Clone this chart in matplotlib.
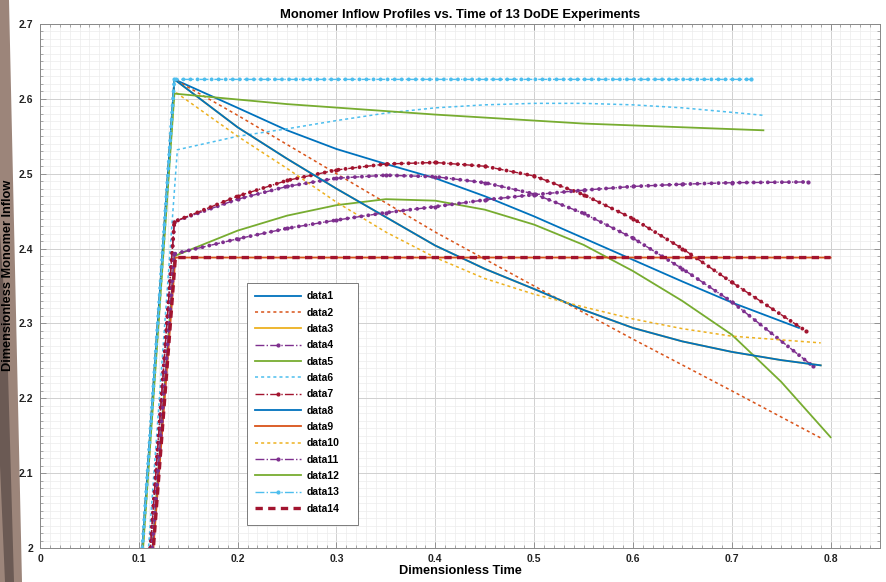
#%%
import numpy as np
import matplotlib
matplotlib.use('Agg')
import matplotlib.pyplot as plt
from matplotlib.patches import Polygon, Rectangle
from matplotlib.ticker import MultipleLocator

plt.rcParams['font.family'] = ['Liberation Sans', 'DejaVu Sans']
plt.rcParams['font.weight'] = 'bold'

#%%
# every run starts at (0, 0) and jumps to its peak at t ~ 0.136
t1 = [0, 0.136, 0.2, 0.25, 0.3, 0.35, 0.4, 0.45, 0.5, 0.55, 0.6, 0.65, 0.7, 0.768]
y1 = [0, 2.626, 2.588, 2.558, 2.533, 2.513, 2.494, 2.47, 2.443, 2.414, 2.385, 2.356, 2.328, 2.294]

t2 = [0, 0.136, 0.2, 0.3, 0.4, 0.5, 0.6, 0.7, 0.79]
y2 = [0, 2.626, 2.578, 2.5, 2.422, 2.35, 2.279, 2.21, 2.147]

t3 = [0, 0.136, 0.2, 0.25, 0.3, 0.35, 0.4, 0.45, 0.5, 0.55, 0.6, 0.65, 0.7, 0.75, 0.79]
y3 = [0, 2.626, 2.562, 2.52, 2.48, 2.442, 2.404, 2.373, 2.346, 2.318, 2.294, 2.276, 2.262, 2.251, 2.244]

t4 = [0, 0.136, 0.2, 0.25, 0.3, 0.35, 0.4, 0.45, 0.5, 0.55, 0.6, 0.65, 0.7, 0.782]
y4 = [0, 2.436, 2.466, 2.483, 2.494, 2.498, 2.496, 2.488, 2.473, 2.447, 2.414, 2.373, 2.329, 2.243]

t5 = [0, 0.136, 0.2, 0.25, 0.3, 0.35, 0.4, 0.45, 0.5, 0.55, 0.6, 0.65, 0.7, 0.75, 0.8]
y5 = [0, 2.39, 2.424, 2.444, 2.458, 2.466, 2.464, 2.452, 2.432, 2.405, 2.37, 2.33, 2.285, 2.222, 2.148]

t6 = [0, 0.139, 0.2, 0.25, 0.3, 0.35, 0.4, 0.45, 0.5, 0.55, 0.6, 0.65, 0.7, 0.732]
y6 = [0, 2.532, 2.55, 2.56, 2.571, 2.581, 2.588, 2.592, 2.594, 2.594, 2.592, 2.588, 2.582, 2.578]

t7 = [0, 0.136, 0.2, 0.25, 0.3, 0.35, 0.4, 0.45, 0.5, 0.55, 0.6, 0.65, 0.7, 0.775]
y7 = [0, 2.436, 2.47, 2.491, 2.505, 2.513, 2.515, 2.51, 2.497, 2.472, 2.44, 2.4, 2.355, 2.29]

t8 = t3
y8 = y3

t9 = [0, 0.137, 0.8]
y9 = [0, 2.388, 2.388]

t10 = [0, 0.136, 0.2, 0.25, 0.3, 0.35, 0.4, 0.45, 0.5, 0.55, 0.6, 0.65, 0.7, 0.79]
y10 = [0, 2.61, 2.55, 2.507, 2.462, 2.422, 2.388, 2.36, 2.339, 2.322, 2.306, 2.293, 2.283, 2.274]

t11 = [0, 0.136, 0.2, 0.25, 0.3, 0.35, 0.4, 0.45, 0.5, 0.55, 0.6, 0.65, 0.7, 0.777]
y11 = [0, 2.393, 2.413, 2.427, 2.438, 2.448, 2.456, 2.465, 2.472, 2.478, 2.483, 2.486, 2.488, 2.489]

t12 = [0, 0.136, 0.25, 0.4, 0.55, 0.732]
y12 = [0, 2.607, 2.593, 2.579, 2.567, 2.558]

t13 = [0, 0.136, 0.719]
y13 = [0, 2.626, 2.626]

t14 = t9
y14 = y9

xticks = [0, 0.1, 0.2, 0.3, 0.4, 0.5, 0.6, 0.7, 0.8]
xticklabels = ['0', '0.1', '0.2', '0.3', '0.4', '0.5', '0.6', '0.7', '0.8']
yticks = [2, 2.1, 2.2, 2.3, 2.4, 2.5, 2.6, 2.7]
yticklabels = ['2', '2.1', '2.2', '2.3', '2.4', '2.5', '2.6', '2.7']

#%%
c_blue = '#0072BD'
c_orange = '#D95319'
c_yellow = '#EDB120'
c_purple = '#7E2F8E'
c_green = '#77AC30'
c_cyan = '#4DBEEE'
c_red = '#A2142F'

dot = (0, (2, 2))

series = [
    (t1, y1, c_blue, '-', False, 1.3),
    (t2, y2, c_orange, dot, False, 1.1),
    (t3, y3, c_yellow, '-', False, 1.3),
    (t4, y4, c_purple, '-.', True, 1.0),
    (t5, y5, c_green, '-', False, 1.3),
    (t6, y6, c_cyan, dot, False, 1.1),
    (t7, y7, c_red, '-.', True, 1.0),
    (t8, y8, c_blue, '-', False, 1.3),
    (t9, y9, c_orange, '-', False, 1.3),
    (t10, y10, c_yellow, dot, False, 1.1),
    (t11, y11, c_purple, '-.', True, 1.0),
    (t12, y12, c_green, '-', False, 1.3),
    (t13, y13, c_cyan, '-.', True, 1.0),
    (t14, y14, c_red, (0, (2.2, 1.6)), False, 2.4),
]

fig = plt.figure(figsize=(8.86, 5.82), dpi=100)
fig.patch.set_facecolor('white')

# brownish strip of the photographed screen on the left (kept behind the axes labels)
fig.patches.append(Polygon([[0, 0], [22 / 886, 0], [9 / 886, 1], [0, 1]], closed=True,
                           transform=fig.transFigure, facecolor='#9c857a', edgecolor='none', zorder=-10))
fig.patches.append(Polygon([[0, 0.60], [7 / 886, 0.42], [14 / 886, 0.0], [5 / 886, 0.0], [0, 0.2]], closed=True,
                           transform=fig.transFigure, facecolor='#6b5a54', edgecolor='none', zorder=-9))

ax = fig.add_axes([40 / 886, 1 - 548 / 582, 840 / 886, 524 / 582])

for i, (t, y, c, ls, mk, lw) in enumerate(series):
    ax.plot(t, y, color=c, linestyle=ls, linewidth=lw,
            marker='.' if mk else None, markersize=4,
            label=f'data{i + 1}', zorder=3 + i * 0.01)
    if mk:
        # dense chain of dots along the curve, like the marker chain in the original
        ax.plot(t, y, color=c, linestyle=(0, (0.01, 1.8)), linewidth=2.8,
                dash_capstyle='round', zorder=3 + i * 0.01)

ax.set_xlim(0, 0.85)
ax.set_ylim(2, 2.7)
ax.set_xticks(xticks)
ax.set_xticklabels(xticklabels)
ax.set_yticks(yticks)
ax.set_yticklabels(yticklabels)
ax.xaxis.set_minor_locator(MultipleLocator(0.01))
ax.yaxis.set_minor_locator(MultipleLocator(0.01))

ax.grid(True, which='major', color='#d0d0d0', linewidth=0.7, zorder=0)
ax.grid(True, which='minor', color='#ececec', linewidth=0.5, zorder=0)
ax.set_axisbelow(True)

ax.tick_params(which='both', direction='in', top=True, right=True, colors='#888888',
               labelcolor='#222222', labelsize=7.5)
ax.tick_params(which='major', length=4, width=0.6)
ax.tick_params(which='minor', length=2.5, width=0.5)
ax.tick_params(axis='x', pad=4)
ax.tick_params(axis='y', pad=5)
for s in ax.spines.values():
    s.set_color('#888888')
    s.set_linewidth(0.7)

ax.set_title('Monomer Inflow Profiles vs. Time of 13 DoDE Experiments',
             fontsize=9.4, fontweight='bold', pad=4)
ax.set_xlabel('Dimensionless Time', fontsize=9.2, fontweight='bold', labelpad=1)
ax.set_ylabel('Dimensionless Monomer Inflow', fontsize=9.2, fontweight='bold')
ax.yaxis.set_label_coords(-0.031, 0.521)

# legend box, a bit wider than the entries as in the original
ax.add_patch(Rectangle((0.2464, 0.0439), 0.1322, 0.4621, transform=ax.transAxes,
                       facecolor='white', edgecolor='#666666', linewidth=0.6, zorder=10))
leg = ax.legend(loc='upper left', bbox_to_anchor=(0.2464, 0.506), borderaxespad=0,
                fontsize=7.5, handlelength=4.4, labelspacing=0.61, frameon=False,
                borderpad=0.8, handletextpad=0.5)
leg.set_zorder(11)

fig.savefig('out.png', dpi=100)
